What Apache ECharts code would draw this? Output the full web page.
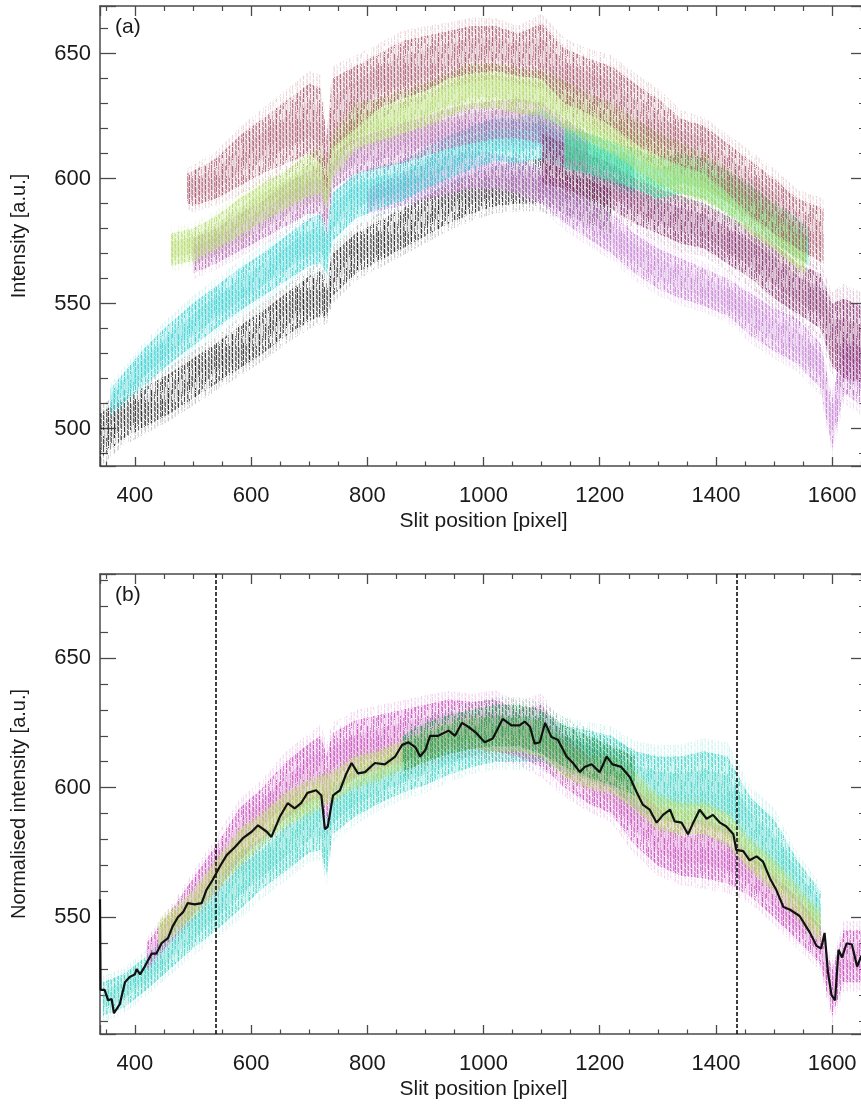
<!DOCTYPE html>
<html>
<head>
<meta charset="utf-8">
<script src="https://cdn.jsdelivr.net/npm/echarts@6/dist/echarts.min.js"></script>
<style>
html,body{margin:0;padding:0;background:#fff;}
#chart{width:861px;height:1110px;}
</style>
</head>
<body>
<div id="chart"></div>
<script>
// ---------------- DATA ----------------
// Each band: [slit position, lower intensity, upper intensity]
// Panel (a): raw intensity clouds
const aBlack = [[340,488,506],[380,496,512],[420,501,517],[460,506,522],[500,512,528],[540,518,534],[580,524,541],[620,530,547],[660,537,554],[700,543,561],[720,545,563],[730,544,558],[740,553,570],[780,562,578],[820,567,583],[860,572,588],[900,577,593],[940,582,598],[980,586,602],[1020,589,605],[1060,590,607],[1100,590,608],[1140,586,603],[1180,582,600],[1220,578,596]];
const aViolet = [[800,586,596],[860,589,602],[900,592,606],[940,594,609],[980,596,611],[1020,596,610],[1060,594,608],[1100,590,604],[1140,582,598],[1180,576,592],[1220,570,586],[1260,562,578],[1300,556,572],[1340,552,568],[1380,549,564],[1420,545,560],[1460,537,554],[1500,531,548],[1540,526,544],[1580,516,534],[1600,492,512],[1620,514,536],[1660,508,532]];
const aCyan = [[358,506,516],[380,510,522],[420,518,533],[460,526,542],[500,533,550],[540,540,557],[580,547,564],[620,553,570],[660,559,577],[700,565,584],[720,566,586],[730,562,580],[740,575,594],[780,584,602],[820,588,605],[860,591,607],[900,596,612],[940,600,617],[980,604,621],[1020,607,624],[1060,606,624],[1100,608,628],[1140,604,622],[1180,601,618],[1220,598,614],[1260,594,610]];
const aMauve = [[500,562,576],[540,566,580],[580,571,586],[620,576,591],[660,581,598],[700,586,603],[720,586,604],[730,578,598],[740,596,610],[780,602,616],[820,604,619],[860,606,622],[900,609,625],[940,612,628],[980,614,630],[1020,616,631],[1060,616,632],[1100,614,630],[1140,606,624],[1180,602,618]];
const aPlum = [[1100,598,618],[1140,596,614],[1180,592,610],[1220,588,606],[1260,582,600],[1300,578,596],[1340,574,593],[1380,572,590],[1420,566,585],[1460,560,580],[1500,552,574],[1540,546,566],[1580,540,562],[1600,525,550],[1620,520,552],[1660,518,548]];
const aSpring = [[1140,604,620],[1180,602,618],[1220,599,615],[1260,596,612],[1300,592,608],[1340,594,610],[1380,592,608],[1420,586,603],[1460,580,597],[1500,574,590],[1540,568,584],[1560,565,580]];
const aYellowGreen = [[462,565,578],[500,567,580],[540,572,585],[580,577,592],[620,583,598],[660,588,603],[700,593,610],[720,594,612],[730,588,606],[740,600,618],[780,612,630],[820,615,632],[860,618,635],[900,621,638],[940,625,642],[980,628,646],[1020,628,646],[1060,626,644],[1100,625,643],[1140,620,639],[1180,615,634],[1220,610,630],[1260,604,624],[1300,598,618],[1340,594,614],[1380,591,610],[1420,586,604],[1460,578,596],[1500,572,590],[1540,564,582],[1555,562,578]];
const aBrown = [[490,590,602],[500,589,603],[540,592,608],[580,597,617],[620,602,624],[660,606,631],[700,610,638],[720,606,636],[730,596,616],[740,612,640],[780,620,645],[820,628,650],[860,632,655],[900,635,657],[940,640,659],[980,642,661],[1020,643,661],[1060,641,658],[1100,640,662],[1140,630,652],[1180,626,648],[1220,621,645],[1260,614,638],[1300,609,632],[1340,605,624],[1380,602,621],[1420,594,614],[1460,585,607],[1500,578,600],[1540,572,592],[1585,566,588]];

// Panel (b): normalised intensity clouds
const bCyan = [[345,512,525],[380,515,528],[420,522,535],[460,530,545],[500,538,554],[540,545,565],[580,553,575],[620,561,581],[660,568,590],[700,575,596],[720,576,597],[730,566,588],[740,582,600],[780,589,607],[820,594,610],[860,598,614],[900,601,618],[940,605,621],[980,608,624],[1020,610,627],[1060,610,627],[1100,610,628],[1140,606,624],[1180,603,622],[1220,600,620],[1260,592,614],[1300,588,612],[1340,586,612],[1380,586,614],[1420,582,612],[1460,572,596],[1500,564,588],[1540,555,572],[1580,545,560]];
const bMagenta = [[420,530,540],[460,540,552],[500,551,565],[540,560,578],[580,572,592],[620,580,600],[660,588,610],[700,595,617],[720,596,620],[730,586,612],[740,598,621],[780,604,626],[820,607,628],[860,610,630],[900,612,632],[940,615,634],[980,615,633],[1020,614,634],[1060,612,630],[1100,608,632],[1140,600,620],[1180,594,612],[1220,590,609],[1260,578,600],[1300,570,592],[1340,566,586],[1380,565,588],[1420,563,584],[1460,558,574],[1500,550,566],[1540,541,558],[1580,532,546],[1600,512,530],[1620,525,545],[1660,525,545]];
const bYellowGreen = [[440,538,548],[500,550,560],[540,560,572],[580,570,584],[620,578,590],[660,585,598],[700,590,603],[740,595,606],[780,600,612],[820,603,614],[860,607,618],[900,610,622],[940,614,625],[980,615,627],[1020,614,627],[1060,614,627],[1100,612,626],[1140,604,618],[1180,600,612],[1220,598,612],[1260,592,606],[1300,584,597],[1340,582,594],[1380,582,594],[1420,578,590],[1460,568,580],[1500,560,572],[1540,550,562],[1580,540,552]];
const bGreen = [[860,606,620],[900,610,625],[940,613,628],[980,615,630],[1020,616,632],[1060,616,632],[1100,613,630],[1140,608,624],[1180,604,620],[1220,601,616],[1260,597,612]];

// Panel (b): running mean (black line)
const meanLine = [[340,557],[341,522],[348,522],[354,518],[360,518.5],[364,513],[374,516.5],[383,525],[391,527],[400,528],[403,530],[409,528],[417,531],[429,536],[437,536],[446,540],[457,542],[465,546.5],[474,550],[483,552],[491,555.5],[503,555],[515,555.5],[523,560.5],[534,564.5],[546,569.5],[558,574],[572,577],[586,580.5],[601,583],[612,585.5],[627,583],[635,581],[650,589],[663,594],[675,592],[686,594],[697,598],[712,599],[721,597],[727,584],[732,585],[741,597],[753,599],[764,605.5],[773,609.5],[784,605.5],[796,606],[813,609.5],[830,609],[848,612],[860,616.5],[871,617.5],[883,615.5],[891,612],[900,614.5],[908,620],[922,620],[940,622],[951,620],[963,625],[977,623],[988,621],[1002,617.5],[1016,619],[1033,626.5],[1048,624],[1062,624],[1071,625.5],[1080,623.5],[1088,617],[1097,617.5],[1106,625],[1117,619.5],[1128,618.5],[1143,612],[1154,609.5],[1166,606],[1174,608],[1186,609],[1200,606],[1212,612],[1222,609],[1237,608],[1252,604],[1263,598.5],[1274,593.5],[1286,591.5],[1298,586.5],[1309,589.5],[1321,591.5],[1329,587],[1341,586.5],[1352,582],[1361,586.5],[1372,591.5],[1384,588],[1395,589.5],[1407,586.5],[1418,585],[1430,582],[1435,576],[1447,575.5],[1458,572],[1470,573.5],[1481,571.5],[1493,565],[1504,560.5],[1516,554],[1527,553],[1544,550.5],[1562,544],[1573,539],[1581,538],[1587,544],[1593,528.5],[1599,520],[1605,518],[1611,537.5],[1617,534.5],[1625,540],[1634,539.5],[1643,531],[1650,535],[1660,537]];

// Panel (b): dashed limits of the region used
const cutX = [540, 1435];

// Axis extents
const xRange = [340, 1660];
const yRangeA = [485, 669];
const yRangeB = [505, 682.4];

// ---------------- RENDERING ----------------
const FONT = 'Liberation Sans, Arial, sans-serif';

function hexToRgba(hex, a) {
  const n = parseInt(hex.slice(1), 16);
  return 'rgba(' + ((n >> 16) & 255) + ',' + ((n >> 8) & 255) + ',' + (n & 255) + ',' + a + ')';
}
// dotted vertical-streak texture (purely decorative styling)
const colAlpha = [0.75,0,0.35,0.55,0,0.25,0.85,0.15,0,0.45,0.65,0,0.3,0.6,0,0.2,0.8,0.1,0,0.5,0.4,0,0.7,0.2,0,0.55,0.3];
function streakPattern(color, strength) {
  const W = colAlpha.length, H = 56;
  const c = document.createElement('canvas');
  c.width = W; c.height = H;
  const g = c.getContext('2d');
  g.fillStyle = color;
  for (let col = 0; col < W; col++) {
    const a = colAlpha[col] * strength;
    if (a <= 0) continue;
    const gapStart = (col * 17) % H, gapLen = 6 + (col * 7) % 14;
    for (let y = 0; y < H; y++) {
      const inGap = ((y - gapStart + H) % H) < gapLen;
      if (inGap) continue;
      if ((y * 7 + col * 5) % 6 === 0) continue;
      g.globalAlpha = a;
      g.fillRect(col, y, 1, 1);
    }
  }
  return c;
}
function bandSeries(band, color, gridIdx, base, strength) {
  const pattern = streakPattern(color, strength);
  const halo = streakPattern(color, strength * 0.3);
  return {
    type: 'custom',
    xAxisIndex: gridIdx * 2,
    yAxisIndex: gridIdx * 2,
    clip: true,
    silent: true,
    data: band,
    encode: { x: 0, y: [1, 2] },
    renderItem: function (params, api) {
      if (params.dataIndex !== 0) return null;
      function poly(fLo, fHi) {
        const top = band.map(d => api.coord([d[0], d[2] + (d[2] - d[1]) * fHi]));
        const bot = band.map(d => api.coord([d[0], d[1] - (d[2] - d[1]) * fLo])).reverse();
        return top.concat(bot);
      }
      return {
        type: 'group',
        children: [
          { type: 'polygon', shape: { points: poly(0.18, 0.18) }, style: { fill: { image: halo, repeat: 'repeat' } } },
          { type: 'polygon', shape: { points: poly(0, 0) }, style: { fill: hexToRgba(color, base) } },
          { type: 'polygon', shape: { points: poly(0, 0) }, style: { fill: { image: pattern, repeat: 'repeat' } } },
          { type: 'polygon', shape: { points: poly(-0.25, -0.25) }, style: { fill: hexToRgba(color, base * 0.9) } }
        ]
      };
    }
  };
}

const axisColor = '#4a4a4a';
const plainNum = v => String(Math.round(v));
function xAxisDef(gridIdx, pos) {
  const bottom = pos === 'bottom';
  return {
    type: 'value', gridIndex: gridIdx, position: pos,
    min: xRange[0], max: xRange[1], splitNumber: 6,
    name: bottom ? 'Slit position [pixel]' : '',
    nameLocation: 'middle', nameGap: 45,
    nameTextStyle: { fontFamily: FONT, fontSize: 21, color: '#1a1a1a' },
    axisLine: { show: true, onZero: false, lineStyle: { color: axisColor, width: 1.5 } },
    axisTick: { show: true, inside: true, length: bottom ? 9 : 10, lineStyle: { color: axisColor, width: 1.3 } },
    minorTick: { show: true, splitNumber: 4, length: bottom ? 4.5 : 5, lineStyle: { color: axisColor, width: 1.2 } },
    axisLabel: { show: bottom, margin: 19, fontFamily: FONT, fontSize: 22, color: '#1a1a1a', showMinLabel: false, showMaxLabel: false, formatter: plainNum },
    splitLine: { show: false }
  };
}
function yAxisDef(gridIdx, pos, range, name) {
  const left = pos === 'left';
  return {
    type: 'value', gridIndex: gridIdx, position: pos,
    min: range[0], max: range[1], splitNumber: 4,
    name: left ? name : '',
    nameLocation: 'middle', nameGap: 71,
    nameTextStyle: { fontFamily: FONT, fontSize: 20, color: '#1a1a1a' },
    axisLine: { show: true, onZero: false, lineStyle: { color: axisColor, width: 1.5 } },
    axisTick: { show: true, inside: true, length: 16, lineStyle: { color: axisColor, width: 1.3 } },
    minorTick: { show: true, splitNumber: 5, length: 8, lineStyle: { color: axisColor, width: 1.2 } },
    axisLabel: { show: left, margin: 9, fontFamily: FONT, fontSize: 22, color: '#1a1a1a', showMinLabel: false, showMaxLabel: false, formatter: plainNum },
    splitLine: { show: false }
  };
}

const chart = echarts.init(document.getElementById('chart'), null, { renderer: 'canvas' });
chart.setOption({
  animation: false,
  backgroundColor: '#ffffff',
  title: [
    { text: '(a)', left: 115, top: 17, padding: 0, textStyle: { fontFamily: FONT, fontSize: 21, fontWeight: 'normal', color: '#1a1a1a' } },
    { text: '(b)', left: 115, top: 585, padding: 0, textStyle: { fontFamily: FONT, fontSize: 21, fontWeight: 'normal', color: '#1a1a1a' } }
  ],
  grid: [
    { left: 100, top: 6, width: 767, height: 460, containLabel: false, outerBoundsMode: 'none' },
    { left: 100, top: 574, width: 767, height: 460, containLabel: false, outerBoundsMode: 'none' }
  ],
  xAxis: [xAxisDef(0, 'bottom'), xAxisDef(0, 'top'), xAxisDef(1, 'bottom'), xAxisDef(1, 'top')],
  yAxis: [
    yAxisDef(0, 'left', yRangeA, 'Intensity [a.u.]'), yAxisDef(0, 'right', yRangeA, ''),
    yAxisDef(1, 'left', yRangeB, 'Normalised intensity [a.u.]'), yAxisDef(1, 'right', yRangeB, '')
  ],
  series: [
    bandSeries(aBlack, '#1e1e1e', 0, 0.06, 1.0),
    bandSeries(aViolet, '#c47fd2', 0, 0.16, 1.0),
    bandSeries(aCyan, '#38cfd0', 0, 0.22, 1.0),
    bandSeries(aMauve, '#b266b0', 0, 0.16, 1.0),
    bandSeries(aPlum, '#86306e', 0, 0.16, 1.0),
    bandSeries(aSpring, '#38dc96', 0, 0.26, 1.0),
    bandSeries(aYellowGreen, '#b2dc6a', 0, 0.24, 1.0),
    bandSeries(aBrown, '#a8566a', 0, 0.12, 1.0),

    bandSeries(bCyan, '#3ed2c6', 1, 0.22, 1.0),
    bandSeries(bMagenta, '#c64cbc', 1, 0.16, 1.0),
    bandSeries(bYellowGreen, '#b8dc66', 1, 0.24, 1.0),
    bandSeries(bGreen, '#2c9a58', 1, 0.18, 1.0),
    {
      type: 'line', xAxisIndex: 2, yAxisIndex: 2, data: meanLine,
      showSymbol: false, symbol: 'none', clip: true, silent: true, z: 5,
      lineStyle: { color: '#111111', width: 2.2 },
      markLine: {
        silent: true, symbol: ['none', 'none'], label: { show: false },
        lineStyle: { color: '#111111', width: 1.6, type: [4, 2] },
        data: cutX.map(v => ({ xAxis: v }))
      }
    }
  ]
});
</script>
</body>
</html>
